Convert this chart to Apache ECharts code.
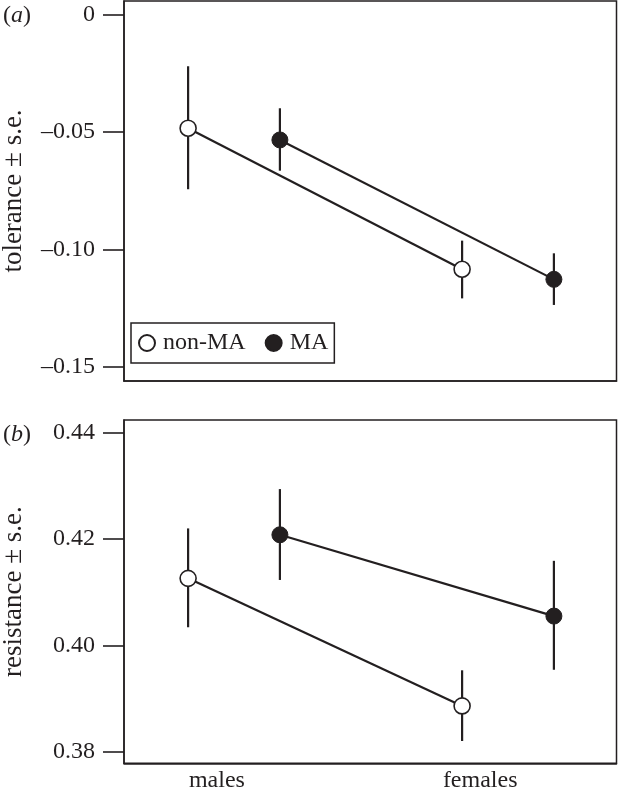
<!DOCTYPE html>
<html>
<head>
<meta charset="utf-8">
<script src="https://cdn.jsdelivr.net/npm/echarts@6/dist/echarts.min.js"></script>
<style>
html,body{margin:0;padding:0;background:#fff;}
#chart{width:618px;height:796px;}
</style>
</head>
<body>
<div id="chart"></div>
<script>
// ---- data ----
var categories = ['males', 'females'];
var labelPos = [1.105, 2.066];
var xNonMA = [1, 2];
var xMA = [1.335, 2.335];

var tolNonMA   = [-0.0484, -0.1085];
var tolNonMALo = [-0.0744, -0.1209];
var tolNonMAHi = [-0.0220, -0.0963];
var tolMA      = [-0.0534, -0.1128];
var tolMALo    = [-0.0665, -0.1237];
var tolMAHi    = [-0.0399, -0.1017];

var resNonMA   = [0.4126, 0.3886];
var resNonMALo = [0.4034, 0.3820];
var resNonMAHi = [0.4220, 0.3953];
var resMA      = [0.4208, 0.4055];
var resMALo    = [0.4123, 0.3954];
var resMAHi    = [0.4294, 0.4159];

var tolTicks = [-0.15, -0.10, -0.05, 0];
var resTicks = [0.38, 0.40, 0.42, 0.44];
var seriesNames = ['non-MA', 'MA'];

// ---- build ----
var INK = '#231f20';
var FONT = '"Liberation Serif", "Times New Roman", serif';
var LW = 2.2;

function pts(xs, ys) { return xs.map(function (x, i) { return [x, ys[i]]; }); }
function bars(xs, lo, hi) { return xs.map(function (x, i) { return [x, lo[i], hi[i]]; }); }

function errRender(params, api) {
  var x = api.value(0);
  var p1 = api.coord([x, api.value(1)]);
  var p2 = api.coord([x, api.value(2)]);
  return {
    type: 'line',
    shape: { x1: p1[0], y1: p1[1], x2: p2[0], y2: p2[1] },
    style: { stroke: INK, lineWidth: LW }
  };
}

function panelSeries(idx, nonMA, nonLo, nonHi, ma, maLo, maHi) {
  return [
    { type: 'line', xAxisIndex: idx, yAxisIndex: idx, data: pts(xNonMA, nonMA), showSymbol: false, symbol: 'none',
      lineStyle: { color: INK, width: LW }, z: 1, silent: true },
    { type: 'line', xAxisIndex: idx, yAxisIndex: idx, data: pts(xMA, ma), showSymbol: false, symbol: 'none',
      lineStyle: { color: INK, width: LW }, z: 1, silent: true },
    { type: 'custom', xAxisIndex: idx, yAxisIndex: idx, data: bars(xNonMA, nonLo, nonHi),
      renderItem: errRender, encode: { x: 0, y: [1, 2] }, z: 2, silent: true },
    { type: 'custom', xAxisIndex: idx, yAxisIndex: idx, data: bars(xMA, maLo, maHi),
      renderItem: errRender, encode: { x: 0, y: [1, 2] }, z: 2, silent: true },
    { type: 'scatter', name: seriesNames[0], xAxisIndex: idx, yAxisIndex: idx, data: pts(xNonMA, nonMA),
      symbol: 'circle', symbolSize: 16,
      itemStyle: { color: '#ffffff', borderColor: INK, borderWidth: 1.6, opacity: 1 }, z: 3 },
    { type: 'scatter', name: seriesNames[1], xAxisIndex: idx, yAxisIndex: idx, data: pts(xMA, ma),
      symbol: 'circle', symbolSize: 16,
      itemStyle: { color: INK, borderColor: INK, borderWidth: 1, opacity: 1 }, z: 3 }
  ];
}

function yAxisCfg(idx, min, max, ticks, name, fmt) {
  return {
    type: 'value', gridIndex: idx, min: min, max: max,
    name: name, nameLocation: 'middle', nameGap: 97,
    nameTextStyle: { fontFamily: FONT, fontSize: 27, color: INK },
    axisLine: { show: true, onZero: false, lineStyle: { color: INK, width: 1.5 } },
    axisTick: { show: true, inside: false, length: 21, customValues: ticks, lineStyle: { color: INK, width: 1.6 } },
    axisLabel: { show: true, customValues: ticks, margin: 29, fontFamily: FONT, fontSize: 24, color: INK, formatter: fmt },
    splitLine: { show: false }
  };
}

function xAxisCfg(idx, showLabels) {
  return {
    type: 'value', gridIndex: idx, min: 0.766, max: 2.5635,
    axisLine: { show: true, onZero: false, lineStyle: { color: INK, width: 1.5 } },
    axisTick: { show: false },
    axisLabel: {
      show: showLabels, customValues: labelPos, margin: 5,
      fontFamily: FONT, fontSize: 24, color: INK,
      formatter: function (v) {
        for (var i = 0; i < labelPos.length; i++) { if (Math.abs(v - labelPos[i]) < 1e-6) return categories[i]; }
        return '';
      }
    },
    splitLine: { show: false }
  };
}

var richLab = {
  n: { fontFamily: FONT, fontSize: 24, fontWeight: 'normal', color: INK },
  i: { fontFamily: FONT, fontSize: 24, fontWeight: 'normal', fontStyle: 'italic', color: INK }
};

var option = {
  animation: false,
  backgroundColor: '#ffffff',
  textStyle: { fontFamily: FONT },
  title: [
    { text: '{n|(}{i|a}{n|)}', left: 1, top: 2, padding: 2,
      textStyle: { fontWeight: 'normal', rich: richLab } },
    { text: '{n|(}{i|b}{n|)}', left: 1, top: 421, padding: 2,
      textStyle: { fontWeight: 'normal', rich: richLab } }
  ],
  legend: {
    data: seriesNames,
    left: 131, top: 323,
    orient: 'horizontal',
    padding: [8, 6, 8, 7],
    itemWidth: 16, itemHeight: 16, itemGap: 19,
    borderColor: INK, borderWidth: 1.5,
    textStyle: { fontFamily: FONT, fontSize: 24, color: INK, padding: [0, 0, 0, 3] },
    selectedMode: false
  },
  grid: [
    { left: 124, top: 1, width: 492.5, height: 380, show: true, borderColor: INK, borderWidth: 1.5,
      containLabel: false, outerBoundsMode: 'none' },
    { left: 124, top: 420, width: 492.5, height: 343.3, show: true, borderColor: INK, borderWidth: 1.5,
      containLabel: false, outerBoundsMode: 'none' }
  ],
  xAxis: [xAxisCfg(0, false), xAxisCfg(1, true)],
  yAxis: [
    yAxisCfg(0, -0.1561, 0.0058, tolTicks, 'tolerance \u00b1 s.e.', function (v) {
      if (Math.abs(v) < 1e-9) return '0';
      return (v < 0 ? '\u2013' : '') + Math.abs(v).toFixed(2);
    }),
    yAxisCfg(1, 0.3778, 0.4424, resTicks, 'resistance \u00b1 s.e.', function (v) { return v.toFixed(2); })
  ],
  series: [].concat(
    panelSeries(0, tolNonMA, tolNonMALo, tolNonMAHi, tolMA, tolMALo, tolMAHi),
    panelSeries(1, resNonMA, resNonMALo, resNonMAHi, resMA, resMALo, resMAHi)
  )
};

var chart = echarts.init(document.getElementById('chart'), null, { renderer: 'canvas' });
chart.setOption(option);
</script>
</body>
</html>
